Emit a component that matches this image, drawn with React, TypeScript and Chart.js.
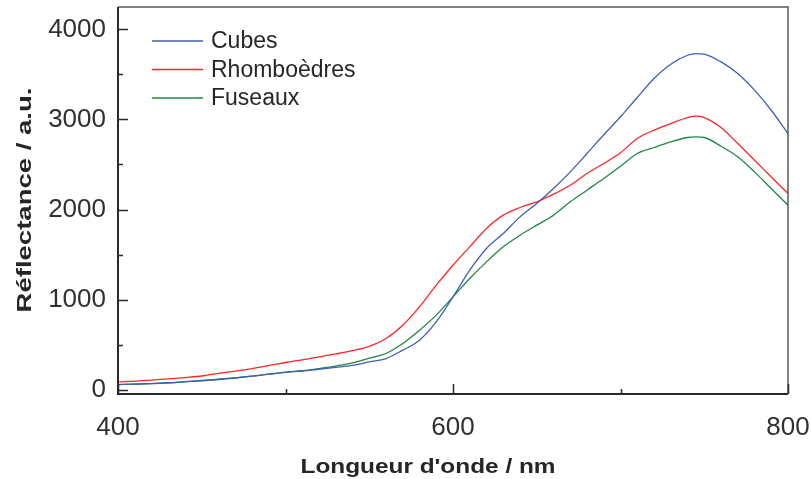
import React, { useEffect, useRef } from "react";
import { Chart, registerables } from "chart.js";

Chart.register(...registerables);

const wavelengths = [400, 410, 420, 430, 440, 450, 460, 470, 480, 490, 500, 510, 520, 530, 540, 550, 560, 570, 580, 590, 600, 610, 620, 630, 640, 650, 660, 670, 680, 690, 700, 710, 720, 730, 740, 745, 750, 760, 770, 780, 790, 800];
const cubes = [55, 60, 66, 75, 88, 100, 115, 130, 148, 170, 190, 205, 225, 245, 267, 307, 344, 437, 548, 751, 1029, 1326, 1567, 1733, 1918, 2067, 2233, 2418, 2622, 2830, 3030, 3245, 3455, 3614, 3714, 3733, 3726, 3640, 3511, 3326, 3103, 2844];
const rhomboedres = [84, 92, 105, 118, 133, 150, 180, 205, 233, 265, 300, 330, 362, 395, 432, 480, 566, 714, 918, 1159, 1381, 1585, 1789, 1937, 2022, 2085, 2170, 2270, 2400, 2511, 2630, 2789, 2881, 2955, 3022, 3037, 3022, 2911, 2733, 2548, 2362, 2178];
const fuseaux = [55, 60, 66, 73, 85, 96, 111, 128, 148, 170, 192, 210, 233, 260, 296, 348, 400, 511, 659, 826, 1029, 1233, 1418, 1585, 1714, 1826, 1937, 2085, 2214, 2344, 2480, 2622, 2689, 2751, 2800, 2807, 2800, 2703, 2585, 2418, 2233, 2048];

const seriesNames = ["Cubes", "Rhomboèdres", "Fuseaux"];
const seriesColors = ["#3f5fb2", "#ff2626", "#1f8744"];
const xTicks = [400, 600, 800];
const yTicks = [0, 1000, 2000, 3000, 4000];
const xMinorTicks = [500, 700];
const yMinorTicks = [500, 1500, 2500, 3500];
const xTitle = "Longueur d'onde / nm";
const yTitle = "Réflectance / a.u.";

const FONT = "'Liberation Sans', Arial, sans-serif";

const decorPlugin = {
  id: "decor",
  afterDraw(chart: any) {
    const ctx = chart.ctx;
    const area = chart.chartArea;
    const xs = chart.scales.x;
    const ys = chart.scales.y;
    ctx.save();
    // frame
    ctx.strokeStyle = "#5a5a5a";
    ctx.lineWidth = 1.5;
    ctx.beginPath();
    ctx.moveTo(area.left, area.top);
    ctx.lineTo(area.right, area.top);
    ctx.lineTo(area.right, area.bottom);
    ctx.stroke();
    ctx.strokeStyle = "#2a2a2a";
    ctx.lineWidth = 2;
    ctx.beginPath();
    ctx.moveTo(area.left, area.top);
    ctx.lineTo(area.left, area.bottom);
    ctx.lineTo(area.right, area.bottom);
    ctx.stroke();
    // ticks
    ctx.lineWidth = 1.5;
    ctx.strokeStyle = "#2a2a2a";
    ctx.beginPath();
    yTicks.forEach((v) => {
      const y = Math.round(ys.getPixelForValue(v)) + 0.5;
      ctx.moveTo(area.left, y);
      ctx.lineTo(area.left + 10, y);
    });
    yMinorTicks.forEach((v) => {
      const y = Math.round(ys.getPixelForValue(v)) + 0.5;
      ctx.moveTo(area.left, y);
      ctx.lineTo(area.left + 5, y);
    });
    xTicks.forEach((v) => {
      const x = Math.round(xs.getPixelForValue(v)) + 0.5;
      ctx.moveTo(x, area.bottom);
      ctx.lineTo(x, area.bottom - 10);
    });
    xMinorTicks.forEach((v) => {
      const x = Math.round(xs.getPixelForValue(v)) + 0.5;
      ctx.moveTo(x, area.bottom);
      ctx.lineTo(x, area.bottom - 5);
    });
    ctx.stroke();
    // legend
    const lx0 = area.left + 34;
    const lx1 = area.left + 85;
    const ly0 = area.top + 34;
    const lstep = 28.5;
    ctx.font = `23px ${FONT}`;
    ctx.textBaseline = "middle";
    ctx.textAlign = "left";
    chart.data.datasets.forEach((ds: any, i: number) => {
      const y = ly0 + i * lstep;
      ctx.strokeStyle = ds.borderColor;
      ctx.lineWidth = 1.3;
      ctx.beginPath();
      ctx.moveTo(lx0, y);
      ctx.lineTo(lx1, y);
      ctx.stroke();
      ctx.fillStyle = "#262626";
      ctx.fillText(ds.label, lx1 + 8, y + 1);
    });
    // axis titles
    ctx.fillStyle = "#262626";
    ctx.font = `bold 20px ${FONT}`;
    ctx.textAlign = "center";
    ctx.textBaseline = "alphabetic";
    {
      const w = ctx.measureText(xTitle).width;
      const s = 255 / w;
      ctx.save();
      ctx.translate(428, 473);
      ctx.scale(s, 1);
      ctx.fillText(xTitle, 0, 0);
      ctx.restore();
    }
    {
      const w = ctx.measureText(yTitle).width;
      const s = 225 / w;
      ctx.save();
      ctx.translate(31, 200);
      ctx.rotate(-Math.PI / 2);
      ctx.scale(s, 1);
      ctx.fillText(yTitle, 0, 0);
      ctx.restore();
    }
    ctx.restore();
  },
};

export default function App() {
  const ref = useRef<HTMLCanvasElement | null>(null);
  useEffect(() => {
    if (!ref.current) return;
    const mk = (vals: number[]) => wavelengths.map((x, i) => ({ x, y: vals[i] }));
    const all = [cubes, rhomboedres, fuseaux];
    const zeroPad = (s: any) => {
      s.paddingTop = 0;
      s.paddingBottom = 0;
      s.paddingLeft = 0;
      s.paddingRight = 0;
    };
    const chart = new Chart(ref.current, {
      type: "line",
      data: {
        datasets: all.map((vals, i) => ({
          label: seriesNames[i],
          data: mk(vals),
          borderColor: seriesColors[i],
          backgroundColor: seriesColors[i],
          borderWidth: 1.3,
          pointRadius: 0,
          cubicInterpolationMode: "monotone" as const,
          fill: false,
        })),
      },
      options: {
        responsive: false,
        animation: false,
        layout: { padding: { top: 7, right: 23, left: 0, bottom: 0 } },
        plugins: { legend: { display: false }, tooltip: { enabled: false } },
        scales: {
          x: {
            type: "linear",
            min: 400,
            max: 800,
            afterFit: (s: any) => {
              s.height = 85;
              zeroPad(s);
            },
            afterBuildTicks: (s: any) => {
              s.ticks = xTicks.map((v) => ({ value: v }));
            },
            grid: { display: false, drawTicks: false },
            border: { display: false },
            ticks: {
              font: { family: FONT, size: 26 },
              color: "#303030",
              padding: 18,
              maxRotation: 0,
              autoSkip: false,
              callback: (v: any) => String(v),
            },
          },
          y: {
            type: "linear",
            min: -50,
            max: 4250,
            afterFit: (s: any) => {
              s.width = 118;
              zeroPad(s);
            },
            afterBuildTicks: (s: any) => {
              s.ticks = yTicks.map((v) => ({ value: v }));
            },
            grid: { display: false, drawTicks: false },
            border: { display: false },
            ticks: {
              font: { family: FONT, size: 26 },
              color: "#303030",
              padding: 12,
              autoSkip: false,
              callback: (v: any) => String(v),
            },
          },
        },
      },
      plugins: [decorPlugin],
    });
    return () => chart.destroy();
  }, []);
  return (
    <div style={{ position: "fixed", left: 0, top: 0, width: 811, height: 479, background: "#fff" }}>
      <canvas ref={ref} width={811} height={479} style={{ display: "block" }} />
    </div>
  );
}
